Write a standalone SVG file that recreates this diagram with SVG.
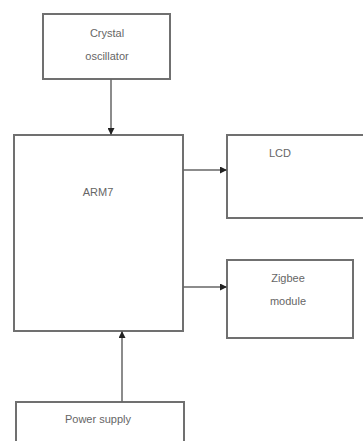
<svg xmlns="http://www.w3.org/2000/svg" width="363" height="441" viewBox="0 0 363 441">
<style>
.box{fill:#fff;stroke:#707070;stroke-width:2}
.lbl{font-family:"Liberation Sans",Arial,sans-serif;font-size:11px;fill:#666;text-anchor:middle}
.con{stroke:#666;stroke-width:1.5;fill:none;marker-end:url(#ah)}
</style>
<defs>
<marker id="ah" markerWidth="7" markerHeight="7" refX="6" refY="3.5" orient="auto" markerUnits="userSpaceOnUse">
<path d="M0,0 L7,3.5 L0,7 z" fill="#222"/>
</marker>
</defs>
<rect width="363" height="441" fill="#fff"/>
<g id="crystal"><rect class="box" x="43" y="14" width="127" height="65"/><text class="lbl" x="107" y="37">Crystal</text><text class="lbl" x="107" y="60">oscillator</text></g>
<g id="arm7"><rect class="box" x="14" y="135" width="169" height="196"/><text class="lbl" x="98" y="196">ARM7</text></g>
<g id="lcd"><rect class="box" x="227" y="135" width="140" height="83"/><text class="lbl" x="280" y="157">LCD</text></g>
<g id="zigbee"><rect class="box" x="227" y="260" width="126" height="78"/><text class="lbl" x="288" y="282">Zigbee</text><text class="lbl" x="288" y="305">module</text></g>
<g id="power"><rect class="box" x="16" y="402" width="168" height="50"/><text class="lbl" x="98" y="423">Power supply</text></g>
<g id="connectors">
<line class="con" x1="111" y1="79" x2="111" y2="134"/>
<line class="con" x1="183" y1="170" x2="226" y2="170"/>
<line class="con" x1="183" y1="287" x2="226" y2="287"/>
<line class="con" x1="122" y1="402" x2="122" y2="332"/>
</g>
</svg>
